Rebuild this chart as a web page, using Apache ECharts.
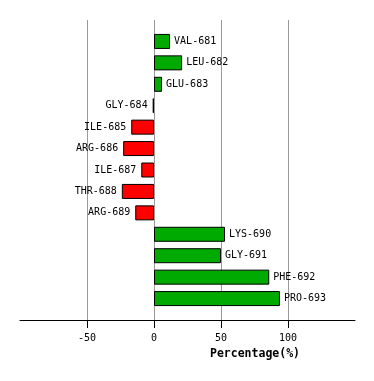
<!DOCTYPE html>
<html><head><meta charset="utf-8">
<script src="https://cdn.jsdelivr.net/npm/echarts@6/dist/echarts.min.js"></script>
<style>html,body{margin:0;padding:0;background:#fff}#c{width:374px;height:381px}</style>
</head><body><div id="c"></div>
<script>
const categories = ['VAL-681','LEU-682','GLU-683','GLY-684','ILE-685','ARG-686','ILE-687','THR-688','ARG-689','LYS-690','GLY-691','PHE-692','PRO-693'];
const values = [12, 21, 6, -1, -17, -23, -9.5, -24, -14, 53, 50, 86, 94];
const tickValues = [-50, 0, 50, 100];
const axisTitle = 'Percentage(%)';

const font = 'DejaVu Sans Mono';
const chart = echarts.init(document.getElementById('c'), null, {renderer: 'canvas'});
const band = 300 / 14;
chart.setOption({
  animation: false,
  backgroundColor: '#fff',
  grid: [
    {left: 20, right: 19, top: 20 + band / 2, height: band * 13},
    {left: 20, right: 19, top: 20, height: 300}
  ],
  xAxis: [
    {gridIndex: 0, type: 'value', min: -100, max: 150, show: false},
    {gridIndex: 1, type: 'value', min: -100, max: 150, interval: 50,
     axisLine: {show: true, onZero: false, lineStyle: {color: '#000', width: 1}},
     axisTick: {show: true, length: 8, lineStyle: {color: '#000'}, customValues: tickValues},
     axisLabel: {show: true, color: '#000', fontFamily: font, fontSize: 10, margin: 13, customValues: tickValues},
     splitLine: {show: true, lineStyle: {color: '#999', width: 1}}}
  ],
  yAxis: [
    {gridIndex: 0, type: 'category', data: categories, inverse: true, show: false},
    {gridIndex: 1, type: 'value', min: 0, max: 1, show: false}
  ],
  graphic: [{type: 'text', left: 210, top: 348,
    style: {text: axisTitle, font: 'bold 11.5px "DejaVu Sans Mono"', fill: '#000'}}],
  series: [{
    type: 'bar', xAxisIndex: 0, yAxisIndex: 0, barWidth: 15,
    data: values.map(v => ({
      value: v,
      itemStyle: {color: v >= 0 ? '#00aa00' : '#ff0000', borderColor: '#000', borderWidth: 1},
      label: {show: true, position: v >= 0 ? 'right' : 'left', distance: v >= 0 ? 4 : 5}
    })),
    label: {formatter: p => categories[p.dataIndex], color: '#000', fontFamily: font, fontSize: 10}
  }]
});
</script></body></html>
